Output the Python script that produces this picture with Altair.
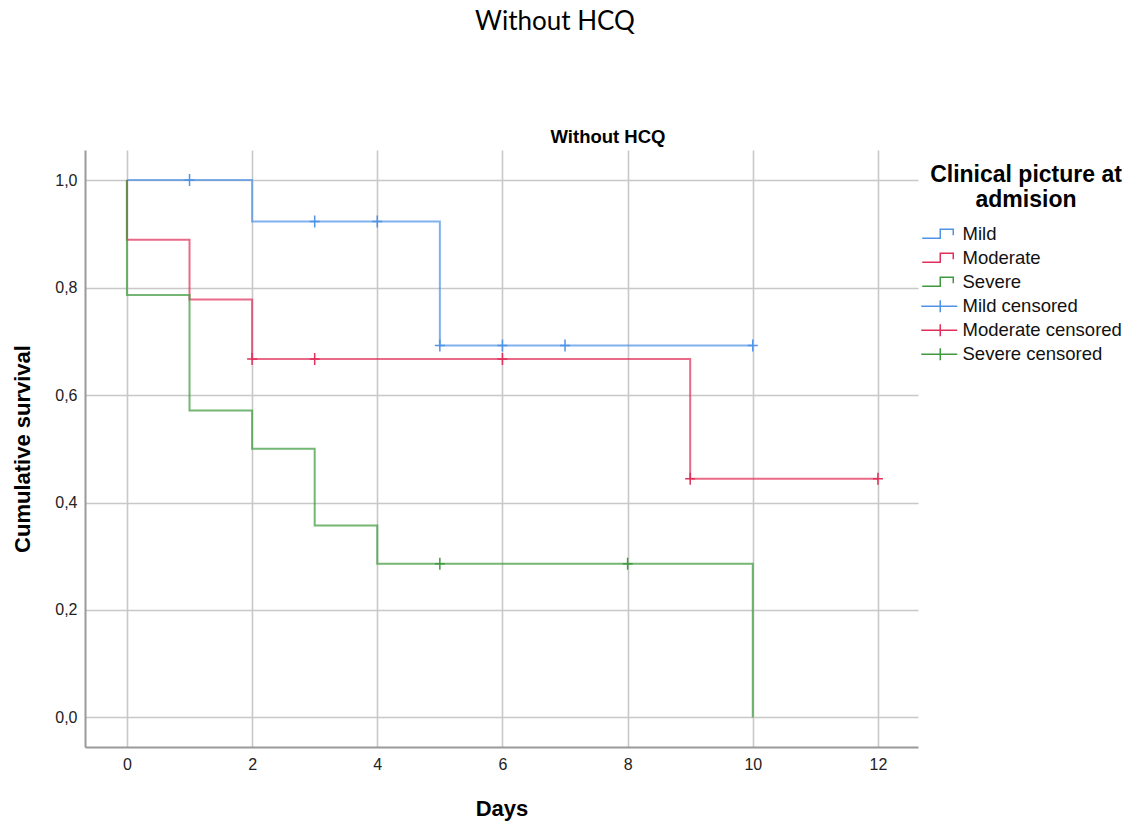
import altair as alt
import pandas as pd

# ---------------- text ----------------
main_title = "Without HCQ"
panel_title = "Without HCQ"
legend_title = ["Clinical picture at", "admision"]
x_title = "Days"
y_title = "Cumulative survival"

# ---------------- legend keys / colours ----------------
keys = ["Mild", "Moderate", "Severe", "Mild censored", "Moderate censored", "Severe censored"]
key_colors = ["#4f93e6", "#e0305a", "#3f9a3f", "#4f93e6", "#e0305a", "#3f9a3f"]

# ---------------- survival step curves ----------------
mild_days = [0, 2, 5, 10]
mild_surv = [1.0, 0.923, 0.692, 0.692]

moderate_days = [0, 0, 1, 2, 9, 12]
moderate_surv = [1.0, 0.889, 0.778, 0.667, 0.444, 0.444]

severe_days = [0, 0, 1, 2, 3, 4, 10]
severe_surv = [1.0, 0.786, 0.571, 0.5, 0.357, 0.286, 0.0]

# ---------------- censored observations ----------------
mild_cens_days = [1, 3, 4, 5, 6, 7, 10]
mild_cens_surv = [1.0, 0.923, 0.923, 0.692, 0.692, 0.692, 0.692]

moderate_cens_days = [2, 3, 6, 9, 12]
moderate_cens_surv = [0.667, 0.667, 0.667, 0.444, 0.444]

severe_cens_days = [5, 8]
severe_cens_surv = [0.286, 0.286]

# ---------------- axes ----------------
x_ticks = [0, 2, 4, 6, 8, 10, 12]
y_ticks = [0.0, 0.2, 0.4, 0.6, 0.8, 1.0]
x_domain = [-0.67, 12.64]
y_domain = [-0.055, 1.056]

# ---------------- tables ----------------
line_rows = []
for k, ds, ss in [("Mild", mild_days, mild_surv),
                  ("Moderate", moderate_days, moderate_surv),
                  ("Severe", severe_days, severe_surv)]:
    for i, (d, s) in enumerate(zip(ds, ss)):
        line_rows.append({"key": k, "day": d, "surv": s, "i": i})
lines_df = pd.DataFrame(line_rows)

cens_rows = []
for k, ds, ss in [("Mild censored", mild_cens_days, mild_cens_surv),
                  ("Moderate censored", moderate_cens_days, moderate_cens_surv),
                  ("Severe censored", severe_cens_days, severe_cens_surv)]:
    for d, s in zip(ds, ss):
        cens_rows.append({"key": k, "day": d, "surv": s})
cens_df = pd.DataFrame(cens_rows)

title_df = pd.DataFrame({"t": [panel_title]})

PLUS = "M-1,0L1,0M0,-1.2L0,1.2"
STEP_SYM = "M-5.67,1.33L0.33,1.33L0.33,-1.67L4.67,-1.67L4.67,0.33"
CENS_SYM = "M-6,0L6,0M0.33,-2L0.33,2"
legend_shapes = [STEP_SYM, STEP_SYM, STEP_SYM, CENS_SYM, CENS_SYM, CENS_SYM]

FONT = "Liberation Sans, Arial, sans-serif"

x_enc = alt.X("day:Q",
              scale=alt.Scale(domain=x_domain, nice=False, zero=False),
              axis=alt.Axis(values=x_ticks, title=x_title, labelPadding=9,
                            titleY=68, titleBaseline="alphabetic"))
y_enc = alt.Y("surv:Q",
              scale=alt.Scale(domain=y_domain, nice=False, zero=False),
              axis=alt.Axis(values=y_ticks, title=y_title, labelPadding=8,
                            labelExpr="replace(format(datum.value, '.1f'), '.', ',')",
                            titleX=-56, titleBaseline="alphabetic"))
legend = alt.Legend(
    title=legend_title,
    orient="none", legendX=845, legendY=14,
    padding=0, symbolSize=36, symbolStrokeWidth=1.5, symbolOpacity=1,
    symbolFillColor="transparent",
    labelOffset=14, rowPadding=5, titlePadding=13, titleLimit=400, labelLimit=400,
)
color_enc = alt.Color("key:N", scale=alt.Scale(domain=keys, range=key_colors), legend=legend)
shape_enc = alt.Shape("key:N", scale=alt.Scale(domain=keys, range=legend_shapes), legend=legend)

lines = alt.Chart(lines_df).mark_line(interpolate="step-after", strokeWidth=2, opacity=0.72).encode(
    x=x_enc, y=y_enc, color=color_enc, order="i:Q"
)

points = alt.Chart(cens_df).mark_point(shape=PLUS, filled=False, size=100, strokeWidth=1.5, opacity=1).encode(
    x=x_enc, y=y_enc, color=color_enc
)

# invisible layer that only carries the legend symbol shapes
legend_layer = alt.Chart(cens_df).mark_point(filled=False, opacity=0).encode(
    x=x_enc, y=y_enc, color=color_enc, shape=shape_enc
)

panel = alt.Chart(title_df).mark_text(
    font=FONT, fontSize=18.5, fontWeight="bold", align="center", baseline="alphabetic", color="#000"
).encode(text="t:N", x=alt.value(523), y=alt.value(-7))

chart = alt.layer(lines, points, legend_layer, panel).properties(
    width=833, height=597,
    title=alt.TitleParams(main_title, font="Lato, Calibri, sans-serif", fontSize=26, fontWeight="normal",
                          color="#000", anchor="middle", dx=53.5, offset=93),
    padding={"left": 77, "top": 142, "right": 208, "bottom": 78},
    autosize="none",
).configure_view(stroke=None).configure_axis(
    domainColor="#9a9a9a", domainWidth=2, gridColor="#c8c8c8", gridWidth=1.6,
    ticks=False, tickSize=0,
    labelFont=FONT, labelFontSize=16, labelColor="#222",
    titleFont=FONT, titleFontSize=22, titleFontWeight="bold", titleColor="#000",
).configure_legend(
    labelFont=FONT, labelFontSize=18.5, labelColor="#111",
    titleFont=FONT, titleFontSize=23, titleFontWeight="bold", titleColor="#000",
    titleLineHeight=25, titleAlign="center", titleAnchor="middle",
)

chart.save("out.html", embed_options={"renderer": "svg", "actions": False})
